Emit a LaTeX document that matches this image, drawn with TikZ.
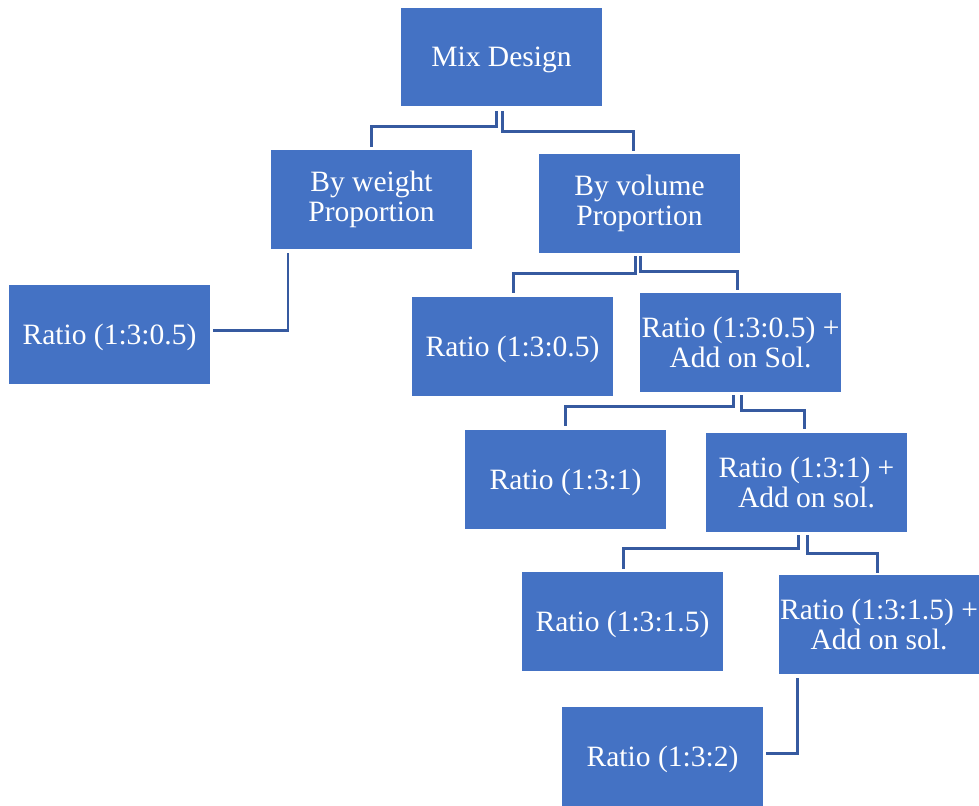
\documentclass[tikz,border=0pt]{standalone}
\usepackage{fontspec}
\setmainfont{Liberation Serif}
\usepackage{tikz}
\usetikzlibrary{calc}
\definecolor{boxblue}{HTML}{4472C4}
\definecolor{lineblue}{HTML}{365AA0}

\begin{document}
\begin{tikzpicture}[
  x=0.02cm, y=-0.02cm,
  every node/.style={align=center},
  box/.style={fill=boxblue, draw=none, text=white, inner sep=0pt,
              minimum width=4.02cm, minimum height=1.98cm,
              font=\fontsize{16.8}{17}\selectfont,
              execute at begin node={\rule{0pt}{15pt}}},
  tallbox/.style={box, execute at begin node={\rule{0pt}{18.5pt}}},
  link/.style={draw=lineblue, line width=1.7pt},
]
  \useasboundingbox (0,0) rectangle (979,805);

  \node[box] (mix)    at (501.5,57)    {Mix Design};
  \node[tallbox] (weight) at (371.5,199.5) {By weight\\Proportion};
  \node[tallbox] (volume) at (639.5,203.5) {By volume\\Proportion};
  \node[box] (r1)     at (109.5,334.5) {Ratio (1:3:0.5)};
  \node[box] (r2)     at (512.5,346.5) {Ratio (1:3:0.5)};
  \node[box] (r2s)    at (740.5,342.5) {Ratio (1:3:0.5) +\\Add on Sol.};
  \node[box] (r3)     at (565.5,479.5) {Ratio (1:3:1)};
  \node[box] (r3s)    at (806.5,482.5) {Ratio (1:3:1) +\\Add on sol.};
  \node[box] (r4)     at (622.5,621.5) {Ratio (1:3:1.5)};
  \node[box, minimum width=4cm] (r4s) at (879,624.5) {Ratio (1:3:1.5) +\\Add on sol.};
  \node[box] (r5)     at (662.5,756)   {Ratio (1:3:2)};

  % elbow connectors, SmartArt style with small gaps
  \draw[link] ($(mix.south)+(-5,4)$) -- ++(0,16) -| ($(weight.north)+(0,-3)$);
  \draw[link] ($(mix.south)+(1,4)$) -- ++(0,21) -| ($(volume.north)+(-6.5,-3)$);
  \draw[link] ($(weight.south)+(-83.5,4)$) |- ($(r1.east)+(3,-4)$);

  \draw[link] ($(volume.south)+(-4.5,3)$) -- ++(0,17) -| ($(r2.north)+(0.5,-4)$);
  \draw[link] ($(volume.south)+(0.5,3)$) -- ++(0,15) -| ($(r2s.north)+(-3.5,-3)$);

  \draw[link] ($(r2s.south)+(-7.5,3)$) -- ++(0,11) -| ($(r3.north)+(-0.5,-4)$);
  \draw[link] ($(r2s.south)+(0.5,3)$) -- ++(0,15) -| ($(r3s.north)+(-2.5,-4)$);

  \draw[link] ($(r3s.south)+(-8.5,3)$) -- ++(0,13) -| ($(r4.north)+(0.5,-3)$);
  \draw[link] ($(r3s.south)+(0.5,3)$) -- ++(0,18) -| ($(r4s.north)+(-2,-2)$);

  \draw[link] ($(r4s.south)+(-82,4)$) |- ($(r5.east)+(3,-3)$);
\end{tikzpicture}
\end{document}
